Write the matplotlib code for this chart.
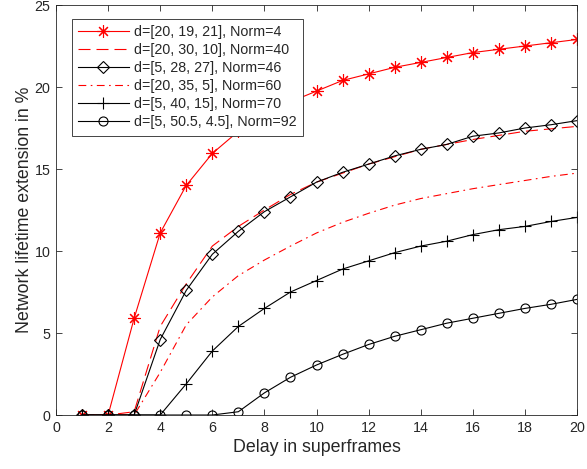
import numpy as np
import matplotlib
matplotlib.use('Agg')
import matplotlib.pyplot as plt

plt.rcParams['font.family'] = ['Liberation Sans', 'DejaVu Sans']

delay = np.arange(1, 21)

labels = ['d=[20, 19, 21], Norm=4',
          'd=[20, 30, 10], Norm=40',
          'd=[5, 28, 27], Norm=46',
          'd=[20, 35, 5], Norm=60',
          'd=[5, 40, 15], Norm=70',
          'd=[5, 50.5, 4.5], Norm=92']

norm4 = [0, 0, 5.9, 11.1, 14.0, 15.95, 17.3, 18.3, 19.1, 19.75,
         20.4, 20.8, 21.2, 21.5, 21.8, 22.1, 22.3, 22.5, 22.7, 22.9]
norm40 = [0, 0, 0.2, 5.4, 8.0, 10.3, 11.5, 12.5, 13.45, 14.2,
          14.75, 15.3, 15.75, 16.2, 16.5, 16.8, 17.05, 17.3, 17.45, 17.6]
norm46 = [0, 0, 0, 4.6, 7.6, 9.8, 11.2, 12.4, 13.3, 14.2,
          14.8, 15.3, 15.8, 16.2, 16.5, 17.0, 17.2, 17.5, 17.7, 17.95]
norm60 = [0, 0, 0, 2.6, 5.5, 7.2, 8.5, 9.45, 10.3, 11.1,
          11.75, 12.3, 12.8, 13.2, 13.5, 13.8, 14.05, 14.3, 14.55, 14.75]
norm70 = [0, 0, 0, 0, 1.9, 3.9, 5.4, 6.5, 7.5, 8.2,
          8.9, 9.4, 9.9, 10.3, 10.6, 11.0, 11.3, 11.5, 11.8, 12.05]
norm92 = [0, 0, 0, 0, 0, 0, 0.2, 1.35, 2.3, 3.05,
          3.7, 4.3, 4.8, 5.2, 5.6, 5.9, 6.2, 6.5, 6.75, 7.05]

ink = '#262626'
lw = 0.8

fig = plt.figure(figsize=(5.87, 4.69), dpi=100)
ax = fig.add_axes([0.0954, 0.1151, 0.8876, 0.8742])

# asterisk like matlab's '*': plus and cross together
ax.plot(delay, norm4, color='red', lw=lw, marker=(8, 2, 0), ms=9, mew=0.8, label=labels[0])
ax.plot(delay, norm40, color='red', lw=lw, ls=(0, (10.8, 5.4)), label=labels[1])
ax.plot(delay, norm46, color='black', lw=lw, marker='D', ms=6.5, mfc='none', mew=0.8, label=labels[2])
ax.plot(delay, norm60, color='red', lw=lw, ls=(0, (7, 4, 1.5, 4)), label=labels[3])
ax.plot(delay, norm70, color='black', lw=lw, marker='+', ms=9, mew=0.8, label=labels[4])
ax.plot(delay, norm92, color='black', lw=lw, marker='o', ms=6.5, mfc='none', mew=0.8, label=labels[5])

ax.set_xlim(0, 20)
ax.set_ylim(0, 25)
ax.set_xticks(np.arange(0, 21, 2))
ax.set_yticks(np.arange(0, 26, 5))
ax.tick_params(direction='in', top=True, right=True, colors=ink, labelsize=10.3,
               length=4, width=0.6, pad=4)
for s in ax.spines.values():
    s.set_color(ink)
    s.set_linewidth(0.6)

ax.set_xlabel('Delay in superframes', fontsize=12.8, color=ink, labelpad=3)
ax.set_ylabel('Network lifetime extension in %', fontsize=12.8, color=ink, labelpad=1)

leg = ax.legend(loc='upper left', bbox_to_anchor=(72 / 587, 1 - 19 / 469),
                bbox_transform=fig.transFigure, fontsize=10.3, handlelength=3.5,
                labelspacing=0.28, borderpad=0.45, handletextpad=0.35,
                fancybox=False, framealpha=1, edgecolor=ink, borderaxespad=0)
leg.get_frame().set_linewidth(0.6)
for t in leg.get_texts():
    t.set_color(ink)

fig.savefig('out.png', dpi=100)
